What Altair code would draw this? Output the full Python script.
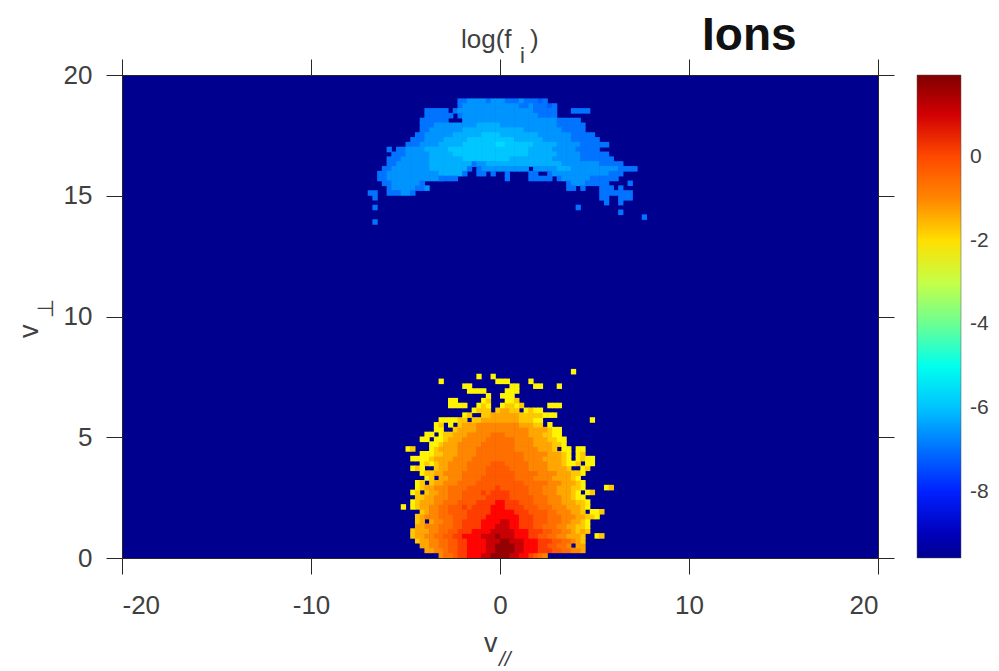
import altair as alt
import pandas as pd

# value of each letter used in the hand-read cell tables (log f)
CODE = {"a": -2.9, "b": -2.25, "c": -1.75, "d": -1.35, "e": -1.0, "f": -0.6, "g": -0.25,
        "h": 0.15, "i": 0.5, "j": 1.1, "k": 1.7,
        "p": -7.3, "q": -6.9, "r": -6.5, "s": -6.2, "t": -5.95, "u": -5.7}

# core population: row -> runs of (first column, letters); column 22 starts at v_par = 0
CORE = {
 0: [(9, "effghhiiijjkkkkjjiihgfe")],
 1: [(6, "ddeefgghhiiiijjkkkkjjiiihhhggffeed")],
 2: [(5, "ddeeffgghhiiiijjkkkkjjiiihhggffe"), (38, "dd")],
 3: [(4, "cddeeffgghhiiiijjjkkjjjiiihhhggffedc")],
 4: [(3, "cddeeffgghhiiiijjjkjjjiiihhggffeedd"), (38, "dc"), (42, "bc")],
 5: [(3, "cdddeeffgghhhiiiijjjjjiiihhhggffeedc"), (39, "dc")],
 6: [(4, "ddeeefffgghhhhiiijjjiihhhggfffeeddccb")],
 7: [(4, "cd"), (7, "deeffgghhhhiiiijjiihhhgggfffeeddcb")],
 8: [(4, "cdeeefffggghhhhiiiiiiihhhgggfffeeeddccb")],
 9: [(5, "cdeeffgggghhhhhiiiiihhhggggffeeeddc"), (41, "bbc")],
 10: [(1, "b"), (3, "bcddeeffggghghhhhiiihhhhgggfffeeedddcb")],
 11: [(3, "bcdddeefffgggghhhhiihhhgggfffeeedddccb")],
 12: [(4, "ccddeeefffggggghhhhhgggggfffeeeddcbb")],
 13: [(3, "bc"), (6, "cddeefffgggghghhhhggggfffeeedddcb"), (40, "bc")],
 14: [(4, "bcddeeeffffgggggghggggggfffeeedddccb"), (44, "bc")],
 15: [(4, "bc"), (7, "cddeeeffffggggggggggfffffeeedddcb")],
 16: [(6, "bc"), (9, "ddeeeffffgggggggffffeeeeddddcb")],
 17: [(5, "bccddeeeefffffggggggfffffeeeedddccb")],
 18: [(3, "bc"), (5, "b"), (8, "cddeeeeffffgggggffffeeeeddddc"), (39, "bc")],
 19: [(5, "bc"), (7, "bcddeeeefffffgggfffffeeeedddcb"), (37, "bc"), (40, "bb")],
 20: [(3, "bb"), (5, "bbcddddeeeefffffffffffeeeeddddcb"), (38, "bcbb")],
 21: [(5, "bbbccdddeeeeffffffffffeeeeedddcb"), (38, "bc")],
 22: [(2, "bc"), (7, "b"), (8, "cddddeeeeffffffffeeeeedddc"), (35, "b"), (36, "b"), (38, "bb")],
 23: [(7, "bb"), (9, "cdddeeeeefffffffeeeeddddccb")],
 24: [(5, "bb"), (8, "bb"), (10, "cdddeeeeeffffffeeeedddccbb")],
 25: [(6, "bb"), (9, "bccdddeeeeefffeeeeedddccbb")],
 26: [(8, "bb"), (12, "cddddeeeeeeeeeeeddddcbb")],
 27: [(8, "bc"), (11, "b"), (13, "cdddeeeeeeeeedddcc"), (32, "b")],
 28: [(9, "bbb"), (12, "bcc"), (16, "ccddddddddcccbb"), (41, "b")],
 29: [(14, "bc"), (18, "ccddddddcccccbbb")],
 30: [(16, "bccc"), (21, "cddcc"), (27, "bcbb")],
 31: [(11, "bbbb"), (17, "bcb"), (22, "bccbc"), (32, "bbb")],
 32: [(11, "bb"), (18, "bc"), (23, "bbc")],
 33: [(19, "b"), (22, "bbb")],
 34: [(15, "bb"), (17, "bb"), (23, "bbb")],
 35: [(14, "bb"), (24, "bb"), (29, "bb"), (34, "b")],
 36: [(9, "b"), (21, "bbb"), (28, "b")],
 37: [(17, "b"), (20, "b")],
 38: [(37, "b")],
}

# energetic arc: same layout; column 29 starts at v_par = 0
ARC = {
 94: [(20, "qqrrrrqrrrqqqrqqqpq")],
 93: [(20, "qrrrrrrrrrrrrqqrqqqpq")],
 92: [(13, "qqqqq"), (19, "qrrrrrrrrrrrrrrrrqqqqq"), (44, "qqqq")],
 91: [(13, "qqqqqq"), (20, "qrrrrrrrrrrrrrrrrqqqq")],
 90: [(12, "qqqqq"), (17, "q"), (21, "rrrrrrrrrrrrrrrrrrrrqqqqq")],
 89: [(12, "qqqrrrrrrrrrsssssrrrrrrrrrrrrqqqqqq")],
 88: [(12, "qqrrrrrrrsssssssssssssrrrrrrrrqqqqq")],
 87: [(11, "qqrrrrrrssssssttttssssssssrrrrrrrqqqqq")],
 86: [(10, "qqqrrrrsssssttttttttttssssssrrrrrrqqqqqq")],
 85: [(9, "qqqrrrrssssstttttttuuttttttsssssrrrrrqqqqqq")],
 84: [(5, "q"), (7, "qqrrrrssssstttttttttttttttttsssssrrrrrqqqqq")],
 83: [(6, "qqqrrrrrsssssttttttttttttttttssssssrrrrrqqqqqq")],
 82: [(5, "qqqrrrrrrsssssssttttttttttsssssssssrrrrrrqqqqqqq")],
 81: [(5, "qqrrrrrrrsssssssssstttq"), (23, "qrrssssssssssssssssrrrrrrrrqqqqq")],
 80: [(4, "qqrrrrrrrrssssssssq"), (24, "qrrrrrrrrrr"), (36, "rrrrrsssrrrrrrrrrrqqqq")],
 79: [(3, "qqrrrrrrrrrrrsssssq"), (24, "qq"), (27, "q"), (30, "q"), (35, "qq"), (39, "qrrrrrrrrrrrrqqq")],
 78: [(3, "qqrrrrrrrrrrrr"), (16, "qqqq"), (30, "q"), (35, "qqqqq"), (41, "qrrrrrrqqqqqq")],
 77: [(4, "qqrrrrrrq"), (43, "qrrrqqqqq"), (56, "q")],
 76: [(5, "qrrrrrq"), (12, "qr"), (43, "qq"), (46, "q"), (50, "qqq"), (54, "q")],
 75: [(1, "qq"), (5, "qqqrrq"), (50, "qqq"), (53, "qqqq")],
 74: [(2, "q"), (50, "qq"), (54, "qqq")],
 73: [(51, "q"), (54, "q")],
 72: [(2, "q"), (45, "q")],
 71: [(54, "q")],
 70: [(59, "q")],
 69: [(2, "q")],
}

X_TICKS = [-20, -10, 0, 10, 20]
Y_TICKS = [0, 5, 10, 15, 20]
BAR_TICKS = [0, -2, -4, -6, -8]
BAR_DOMAIN = [-9.57, 1.95]
JET_RANGE = ["#00008f", "#0000ff", "#0080ff", "#00ffff", "#80ff80",
             "#ffff00", "#ff8000", "#ff0000", "#800000"]
INK = "#404040"
SEAM = 0.03  # cells overlap slightly so no hairlines show between them

rows = []
for table, zero in ((CORE, 22), (ARC, 29)):
    for r, runs in table.items():
        for start, letters in runs:
            for k, ch in enumerate(letters):
                c = start + k - zero
                rows.append({"x": c * 0.25, "x2": (c + 1) * 0.25 + SEAM,
                             "y": r * 0.2, "y2": (r + 1) * 0.2 + SEAM, "f": CODE[ch]})
cells = pd.DataFrame(rows)

x_scale = alt.Scale(domain=[-20, 20], nice=False, zero=False)
y_scale = alt.Scale(domain=[0, 20], nice=False, zero=False)
color_scale = alt.Scale(domain=BAR_DOMAIN, range=JET_RANGE, clamp=True, nice=False, zero=False)


def axis(orient, values, labels=True):
    return alt.Axis(orient=orient, values=values, title=None, grid=False, labels=labels,
                    tickSize=16, tickColor="#262626", tickWidth=1, domainColor="#262626",
                    labelFontSize=26, labelColor=INK, labelFont="Liberation Sans",
                    labelPadding=18 if orient == "bottom" else 14,
                    labelExpr="'' + datum.value")


heat = alt.Chart(cells).mark_rect().encode(
    x=alt.X("x:Q", scale=x_scale, axis=axis("bottom", X_TICKS)),
    x2="x2:Q",
    y=alt.Y("y:Q", scale=y_scale, axis=axis("left", Y_TICKS)),
    y2="y2:Q",
    color=alt.Color("f:Q", scale=color_scale, legend=alt.Legend(
        type="gradient", orient="none", legendX=795, legendY=0, title=None,
        gradientLength=483, gradientThickness=44, gradientStrokeColor="#555555",
        gradientStrokeWidth=0.5, values=BAR_TICKS,
        labelExpr="'' + datum.value",
        labelFontSize=21, labelColor=INK, labelFont="Liberation Sans", labelOffset=9)),
)

mirror = alt.Chart(pd.DataFrame({"x": X_TICKS, "y": Y_TICKS})).mark_point(opacity=0).encode(
    x=alt.X("x:Q", scale=x_scale, axis=axis("top", X_TICKS, False)),
    y=alt.Y("y:Q", scale=y_scale, axis=axis("right", Y_TICKS, False)),
)


def label(txt, px, py, size, **kw):
    kw.setdefault("color", INK)
    kw.setdefault("font", "Liberation Sans")
    return alt.Chart(pd.DataFrame({"t": [txt]})).mark_text(
        fontSize=size, align="left", baseline="alphabetic", **kw
    ).encode(x=alt.value(px - 122), y=alt.value(py - 75), text="t:N")


notes = [
    label("log(f", 461, 48, 26),
    label("i", 520, 63, 22),
    label(")", 530, 48, 26),
    label("Ions", 702, 50, 46, fontWeight="bold", color="#111111"),
    label("v", 484, 652, 27),
    label("//", 499, 666, 21, fontStyle="italic"),
    label("v", 38, 338, 27, angle=270),
    label("\u22a5", 53, 318, 22, angle=270, font="DejaVu Sans"),
]

chart = alt.layer(heat, mirror, *notes).resolve_axis(x="independent", y="independent").properties(
    width=756, height=483,
    autosize=alt.AutoSizeParams(type="none"),
    padding={"left": 114, "top": 67, "right": 113, "bottom": 113},
    background="white",
).configure_view(fill="#00008f", stroke=None)

chart.save("out.html", embed_options={"renderer": "svg", "actions": False})
